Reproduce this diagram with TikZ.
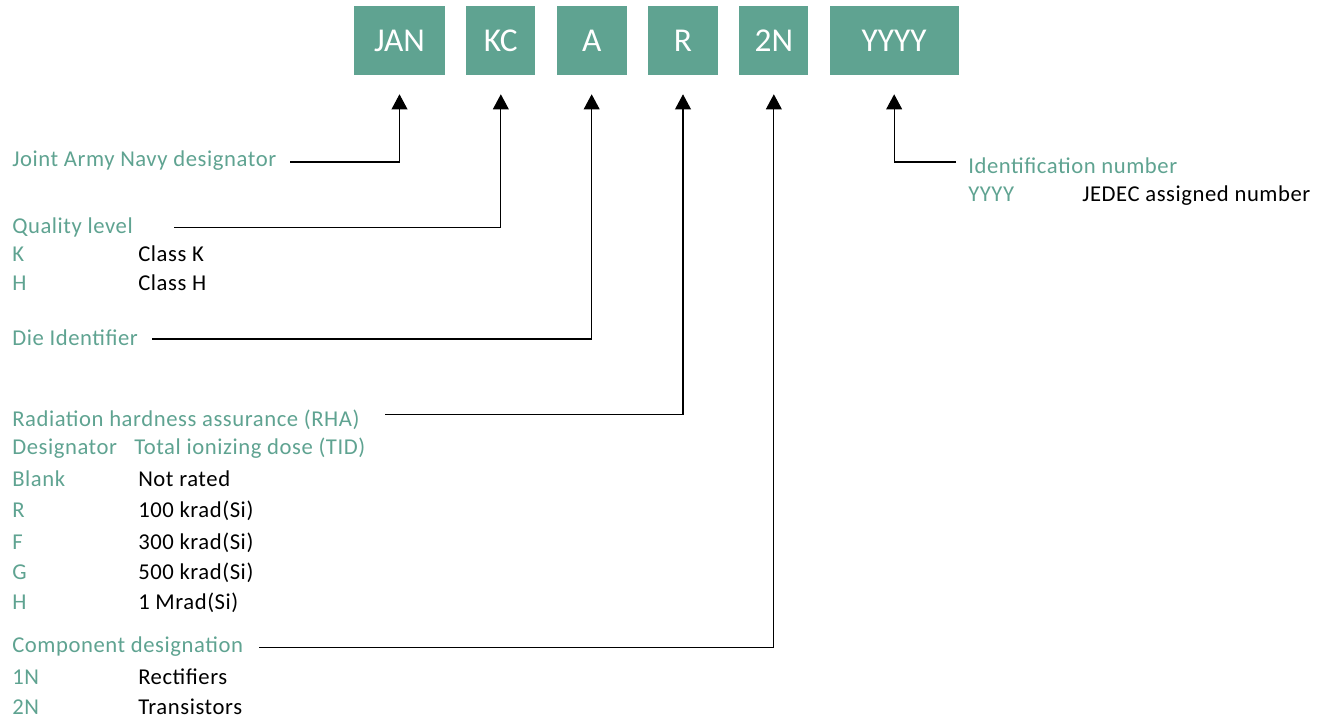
\documentclass[tikz,border=0pt]{standalone}
\usepackage{fontspec}
\setmainfont{Carlito}
\usetikzlibrary{arrows.meta, positioning}
\definecolor{jteal}{RGB}{95,163,145}
\tikzset{
% the boxes of the part number
field/.style={fill=jteal, text=white, minimum height=51.75pt, inner sep=0pt,
  font=\fontsize{25}{30}\selectfont},
% texts on the left and right
lbl/.style={anchor=base west, inner sep=0pt, text=jteal,
  font=\fontsize{17}{20}\selectfont\addfontfeature{LetterSpace=2.5}},
val/.style={lbl, text=black},
pointer/.style={-{Triangle[length=11.25pt,width=11.8pt]}, line width=0.9pt, shorten >=14.25pt},
node distance=15.6pt,
}
\begin{document}
\begin{tikzpicture}[x=0.75pt, y=-0.75pt]
  \useasboundingbox (0,0) rectangle (1327,723);

  % part number
  \node[field, minimum width=68.25pt] (jan) at (399.5,40.5) {JAN};
  \node[field, minimum width=51.75pt, right=of jan] (kc) {KC};
  \node[field, minimum width=52.5pt, right=of kc] (a) {A};
  \node[field, minimum width=52.5pt, right=of a] (r) {R};
  \node[field, minimum width=51.75pt, right=of r] (n) {2N};
  \node[field, minimum width=96.75pt, right=of n] (yyyy) {YYYY};

  % fields explained
  \node[lbl] (janl) at (12,166.7) {Joint Army Navy designator};
  \node[lbl] (kcl) at (12,234) {Quality level};
  \node[lbl] (kcl1) at (12,262) {K};
  \node[val] (kcv1) at (138,262) {Class K};
  \node[lbl] (kcl2) at (12,291) {H};
  \node[val] (kcv2) at (138,291) {Class H};
  \node[lbl] (al) at (12,345) {Die Identifier};
  \node[lbl] (rl) at (12,426) {Radiation hardness assurance (RHA)};
  \node[lbl] (rh1) at (12,454) {Designator};
  \node[lbl] (rh2) at (134,454) {Total ionizing dose (TID)};
  \foreach \d/\v/\y [count=\i] in {Blank/Not rated/486, R/100 krad(Si)/517,
      F/300 krad(Si)/549, G/500 krad(Si)/579, H/1 Mrad(Si)/609}{
    \node[lbl] (rd\i) at (12,\y) {\d};
    \node[val] (rv\i) at (138,\y) {\v};
  }
  \node[lbl] (nl) at (12,652.7) {Component designation};
  \node[lbl] (nl1) at (12,684.3) {1N};
  \node[val] (nv1) at (138,684.3) {Rectifiers};
  \node[lbl] (nl2) at (12,714.3) {2N};
  \node[val] (nv2) at (138,714.3) {Transistors};
  \node[lbl] (yl) at (968,173.3) {Identification number};
  \node[lbl] (yl1) at (968,201.7) {YYYY};
  \node[val] (yv1) at (1082,201.7) {JEDEC assigned number};

  % line ends
  \coordinate (jane) at (290,162);
  \coordinate (kce) at (174,227.3);
  \coordinate (ae) at (152,339);
  \coordinate (re) at (385,414.7);
  \coordinate (ne) at (259,647.3);
  \coordinate (ye) at (956,162);

  \draw[pointer] (jane) -| (jan.south);
  \draw[pointer] (kce) -| (kc.south);
  \draw[pointer] (ae) -| (a.south);
  \draw[pointer] (re) -| (r.south);
  \draw[pointer] (ne) -| (n.south);
  \draw[pointer] (ye) -| (yyyy.south);
\end{tikzpicture}
\end{document}
